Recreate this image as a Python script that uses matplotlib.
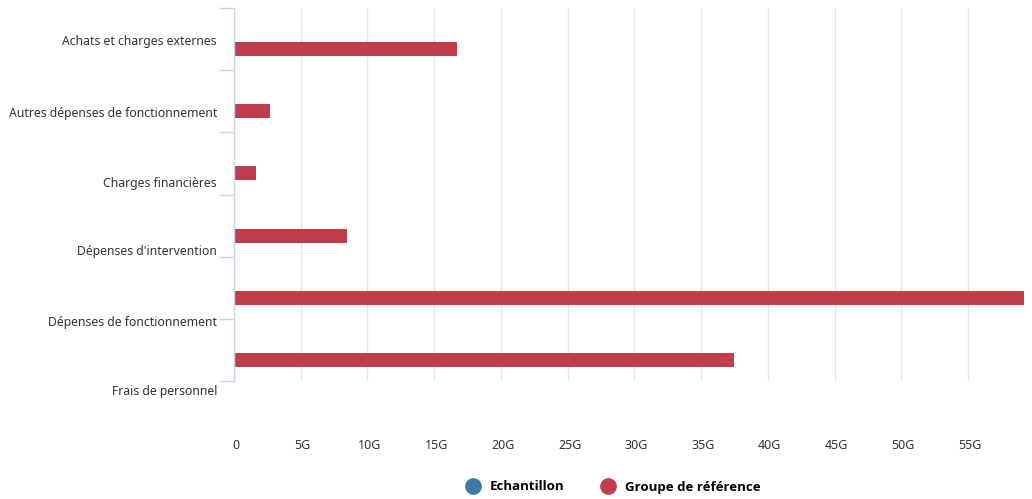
import numpy as np
import matplotlib
matplotlib.use('Agg')
import matplotlib.pyplot as plt
from matplotlib.lines import Line2D
import matplotlib.transforms as mtrans

categories = ['Achats et charges externes', 'Autres dépenses de fonctionnement',
              'Charges financières', "Dépenses d'intervention",
              'Dépenses de fonctionnement', 'Frais de personnel']
echantillon = [0, 0, 0, 0, 0, 0]  # en G
groupe_ref = [16.7, 2.7, 1.65, 8.5, 59.2, 37.5]  # en G
label_pos = [0.54, 1.69, 2.83, 3.92, 5.06, 6.17]
x_ticks = [0, 5, 10, 15, 20, 25, 30, 35, 40, 45, 50, 55]

plt.rcParams['font.family'] = ['Noto Sans', 'DejaVu Sans']

col_ech = '#3f77a6'
col_ref = '#bf3d4c'
axis_col = '#ccd6eb'
txt_col = '#333333'

fig = plt.figure(figsize=(10.32, 4.99), dpi=100)
ax = fig.add_axes([234/1032, 1 - 381/499, 790/1032, 373/499])

y = np.arange(len(categories))
ax.barh(y + 0.34, echantillon, height=0.225, color=col_ech)
ax.barh(y + 0.66, groupe_ref, height=0.225, color=col_ref)

ax.set_ylim(6, 0)
ax.set_xlim(0, max(groupe_ref))

# y axis: ticks at band boundaries, labels placed separately
ax.set_yticks(np.arange(0, 7))
ax.set_yticklabels([])
ax.tick_params(axis='y', length=11, width=1, color=axis_col)

# category labels (shifted like in the original rendering)
trans = mtrans.blended_transform_factory(ax.transAxes, ax.transData)
trans = trans + mtrans.ScaledTranslation(-17/100, 0, fig.dpi_scale_trans)
for lab, pos in zip(categories, label_pos):
    ax.text(0, pos, lab, transform=trans, ha='right', va='center',
            fontsize=8.8, color=txt_col, clip_on=False)

ax.set_xticks(x_ticks)
ax.set_xticklabels(['0'] + ['{}G'.format(v) for v in x_ticks[1:]])
ax.tick_params(axis='x', length=0, pad=42, labelsize=9, labelcolor=txt_col)
for t in ax.get_xticklabels():
    t.set_transform(t.get_transform() + mtrans.ScaledTranslation(2/100, 0, fig.dpi_scale_trans))
ax.grid(axis='x', color='#e6e6e6', linewidth=1)
ax.set_axisbelow(True)

for s in ['top', 'right', 'bottom']:
    ax.spines[s].set_visible(False)
ax.spines['left'].set_color(axis_col)
ax.spines['left'].set_linewidth(1)

handles = [Line2D([], [], marker='o', linestyle='', markersize=11, color=col_ech),
           Line2D([], [], marker='o', linestyle='', markersize=11, color=col_ref)]
fig.legend(handles, ['Echantillon', 'Groupe de référence'], loc='center',
           bbox_to_anchor=(610/1032, 1 - 487/499), ncol=2, frameon=False,
           prop={'family': ['Open Sans', 'DejaVu Sans'], 'weight': 'bold', 'size': 9.5},
           handletextpad=0.3, columnspacing=2.3)

fig.savefig('out.png', dpi=100)
